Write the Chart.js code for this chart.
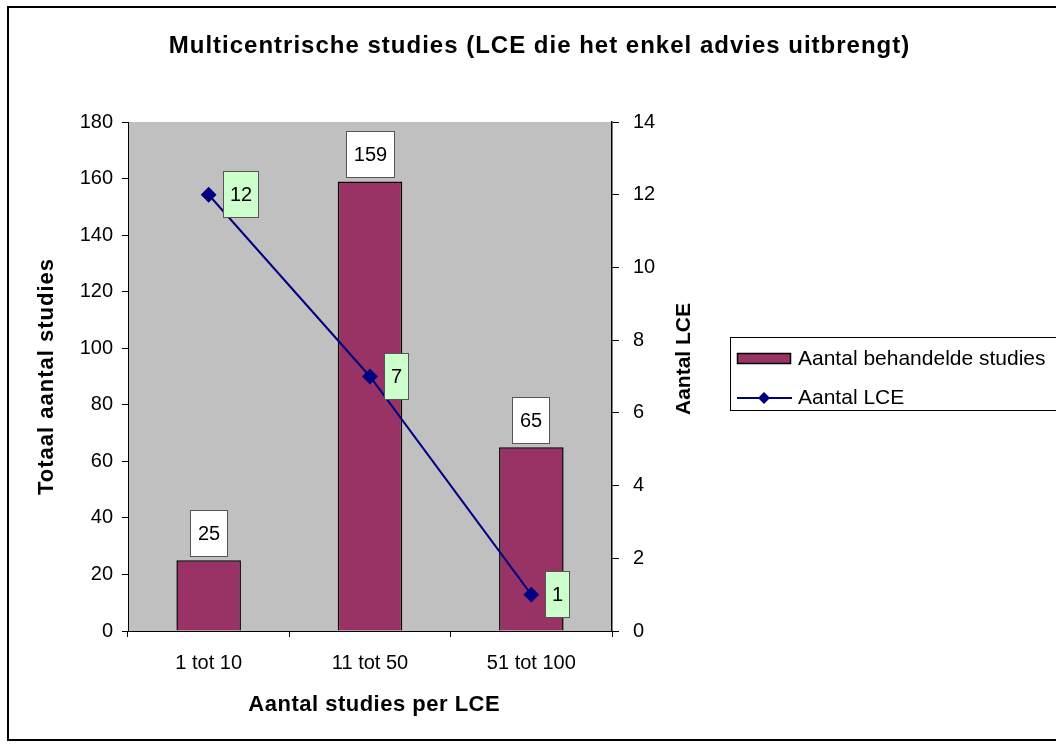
<!DOCTYPE html>
<html><head><meta charset="utf-8">
<script src="https://cdn.jsdelivr.net/npm/chart.js@4.4.1/dist/chart.umd.min.js"></script>
<style>html,body{margin:0;padding:0;background:#fff}canvas{display:block}</style>
</head><body>
<canvas id="c" width="1056" height="747"></canvas>
<script>
const categories = ['1 tot 10', '11 tot 50', '51 tot 100'];
const studiesValues = [25, 159, 65];
const lceValues = [12, 7, 1];
const leftAxisRange = [0, 180, 20];
const rightAxisRange = [0, 14, 2];
const seriesLabels = ['Aantal behandelde studies', 'Aantal LCE'];
const chartTitle = 'Multicentrische studies (LCE die het enkel advies uitbrengt)';
const leftAxisTitle = 'Totaal aantal studies';
const rightAxisTitle = 'Aantal LCE';
const xAxisTitle = 'Aantal studies per LCE';

const FONT = '"Liberation Sans", Arial, sans-serif';
const BAR = '#993366';
const LINE = '#000080';
const PLOT_L = 128, PLOT_R = 612, PLOT_T = 122, PLOT_B = 631;
const W = 1056, H = 747;

function labelBox(ctx, text, x, y, w, h, fill) {
  ctx.fillStyle = fill;
  ctx.fillRect(x, y, w, h);
  ctx.strokeStyle = '#555';
  ctx.lineWidth = 1;
  ctx.strokeRect(x + 0.5, y + 0.5, w - 1, h - 1);
  ctx.fillStyle = '#000';
  ctx.textAlign = 'center';
  ctx.textBaseline = 'middle';
  ctx.fillText(text, x + w / 2, y + h / 2 + 1);
}

function spacedText(ctx, text, x, y, spacing) {
  ctx.letterSpacing = spacing + 'px';
  ctx.fillText(text, x + spacing / 2, y);
  ctx.letterSpacing = '0px';
}

const decor = {
  id: 'decor',
  beforeDraw(chart) {
    const ctx = chart.ctx, a = chart.chartArea;
    ctx.save();
    ctx.fillStyle = '#fff';
    ctx.fillRect(0, 0, W, H);
    ctx.fillStyle = '#c0c0c0';
    ctx.fillRect(a.left, a.top, a.right - a.left, a.bottom - a.top);
    ctx.restore();
  },
  afterDatasetsDraw(chart) {
    const ctx = chart.ctx;
    ctx.save();
    ctx.font = '20px ' + FONT;
    const bars = chart.getDatasetMeta(0).data;
    bars.forEach((el, i) => {
      const t = String(studiesValues[i]);
      const w = Math.round(ctx.measureText(t).width + 16);
      const h = 47;
      labelBox(ctx, t, Math.round(el.x - w / 2), Math.round(el.y - 3 - h), w, h, '#ffffff');
    });
    const pts = chart.getDatasetMeta(1).data;
    pts.forEach((el, i) => {
      const t = String(lceValues[i]);
      const w = Math.round(ctx.measureText(t).width + 14);
      const h = 47;
      labelBox(ctx, t, Math.round(el.x + 14), Math.round(el.y - h / 2), w, h, '#ccffcc');
    });
    ctx.restore();
  },
  afterDraw(chart) {
    const ctx = chart.ctx, a = chart.chartArea;
    ctx.save();
    // outer frame
    ctx.strokeStyle = '#000';
    ctx.lineWidth = 2;
    ctx.strokeRect(8, 7, W + 10, 733);
    // title
    ctx.fillStyle = '#000';
    ctx.textAlign = 'center';
    ctx.textBaseline = 'middle';
    ctx.font = 'bold 24px ' + FONT;
    spacedText(ctx, chartTitle, 539, 46, 1);
    // x title
    ctx.font = 'bold 22px ' + FONT;
    spacedText(ctx, xAxisTitle, 374, 705, 0.5);
    // left title
    ctx.save();
    ctx.translate(47, 377);
    ctx.rotate(-Math.PI / 2);
    spacedText(ctx, leftAxisTitle, 0, 0, 1);
    ctx.restore();
    // right title
    ctx.save();
    ctx.font = 'bold 21px ' + FONT;
    ctx.translate(684, 359);
    ctx.rotate(-Math.PI / 2);
    ctx.fillText(rightAxisTitle, 0, 0);
    ctx.restore();
    // legend
    ctx.lineWidth = 1;
    ctx.strokeStyle = '#000';
    ctx.strokeRect(730.5, 337.5, 400, 73);
    ctx.fillStyle = BAR;
    ctx.fillRect(737, 353, 54, 11);
    ctx.lineWidth = 1.5;
    ctx.strokeRect(737.5, 353.5, 53, 10);
    ctx.strokeStyle = LINE;
    ctx.lineWidth = 2;
    ctx.beginPath();
    ctx.moveTo(737, 398); ctx.lineTo(792, 398);
    ctx.stroke();
    ctx.fillStyle = LINE;
    ctx.beginPath();
    ctx.moveTo(764, 392); ctx.lineTo(770, 398); ctx.lineTo(764, 404); ctx.lineTo(758, 398);
    ctx.closePath(); ctx.fill();
    ctx.fillStyle = '#000';
    ctx.textAlign = 'left';
    ctx.font = '21px ' + FONT;
    ctx.fillText(seriesLabels[0], 798, 359);
    ctx.fillText(seriesLabels[1], 798, 398);
    ctx.restore();
  }
};

const tickFont = { family: FONT, size: 20 };

new Chart(document.getElementById('c'), {
  data: {
    labels: categories,
    datasets: [
      {
        type: 'bar', label: seriesLabels[0], data: studiesValues, yAxisID: 'y',
        backgroundColor: BAR, borderColor: '#000', borderWidth: 1.5,
        barPercentage: 0.4, categoryPercentage: 1, order: 2
      },
      {
        type: 'line', label: seriesLabels[1], data: lceValues, yAxisID: 'y1',
        borderColor: LINE, backgroundColor: LINE, borderWidth: 2,
        pointStyle: 'rectRot', pointRadius: 6.5, pointHoverRadius: 6.5,
        pointBackgroundColor: LINE, pointBorderColor: LINE, tension: 0, order: 1
      }
    ]
  },
  options: {
    responsive: false,
    animation: false,
    devicePixelRatio: 1,
    layout: { padding: { left: 0, right: 0, top: PLOT_T, bottom: 0 } },
    plugins: { legend: { display: false }, tooltip: { enabled: false }, title: { display: false } },
    scales: {
      x: {
        offset: true,
        grid: { display: true, drawOnChartArea: false, drawTicks: true, tickLength: 6, color: '#000', offset: true },
        border: { display: true, color: '#000', width: 1 },
        ticks: { font: tickFont, color: '#000', padding: 14, maxRotation: 0 },
        afterFit(s) { s.height = H - PLOT_B; }
      },
      y: {
        position: 'left',
        min: leftAxisRange[0], max: leftAxisRange[1],
        grid: { drawOnChartArea: false, drawTicks: true, tickLength: 6, color: '#000' },
        border: { display: true, color: '#000', width: 1 },
        ticks: { stepSize: leftAxisRange[2], font: tickFont, color: '#000', padding: 9 },
        afterFit(s) { s.width = PLOT_L; }
      },
      y1: {
        position: 'right',
        min: rightAxisRange[0], max: rightAxisRange[1],
        grid: { drawOnChartArea: false, drawTicks: true, tickLength: 7, color: '#000' },
        border: { display: true, color: '#000', width: 1.5 },
        ticks: { stepSize: rightAxisRange[2], font: tickFont, color: '#000', padding: 14 },
        afterFit(s) { s.width = W - PLOT_R; }
      }
    }
  },
  plugins: [decor]
});
</script>
</body></html>
